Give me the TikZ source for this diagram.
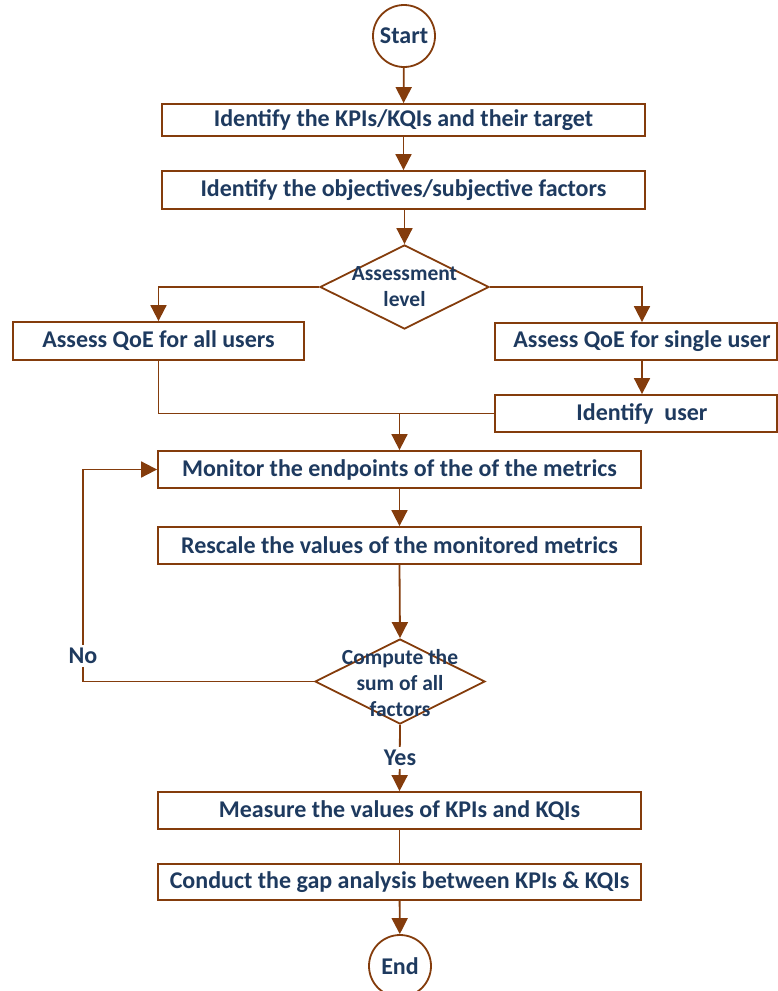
\documentclass[tikz,border=0pt]{standalone}
\usepackage{fontspec}
\setmainfont{Carlito}
\usetikzlibrary{arrows.meta,shapes.geometric}
\definecolor{flowline}{HTML}{843C0C}
\definecolor{flowtext}{HTML}{1E3A5F}

\begin{document}
\begin{tikzpicture}[x=1pt,y=-1pt,
  line width=1.8pt,
  color=flowline,
  txt/.style={text=flowtext, font=\bfseries\fontsize{24}{28}\selectfont, align=center, inner sep=0pt},
  stepbox/.style={txt, draw=flowline, rectangle, fill=white, minimum width=483pt, minimum height=37pt},
  sidebox/.style={stepbox, minimum width=291pt},
  rightbox/.style={stepbox, minimum width=282pt},
  terminal/.style={txt, draw=flowline, circle, fill=white, minimum size=62pt},
  decision/.style={draw=flowline, diamond, fill=white, inner sep=0pt},
  dtext/.style={txt, font=\bfseries\fontsize{21.5}{26}\selectfont},
  tag/.style={txt, fill=white, inner sep=3pt},
  flow/.style={-{Triangle[length=16pt,width=16pt]}}
]
\useasboundingbox (0,0) rectangle (778,991);

% terminals and process steps
\node[terminal] (start) at (404,36) {Start};
\node[stepbox, minimum height=32pt] (b1) at (403.5,120) {Identify the KPIs/KQIs and their target};
\node[stepbox, minimum height=38pt] (b2) at (403.5,190) {Identify the objectives/subjective factors};

% first decision
\node[decision, minimum width=169pt, minimum height=84pt] (d1) at (404.5,287) {};
\node[dtext] (d1t) at (d1) {Assessment\\level};

\node[sidebox, minimum height=38pt] (b3) at (158.5,341) {Assess QoE for all users};
\node[rightbox] (b4) at (636,341.5) {\hspace*{12pt}Assess QoE for single user};
\node[rightbox] (b5) at (636,413.5) {\hspace*{12pt}Identify\ \ user};

\node[stepbox] (b6) at (399.5,469.5) {Monitor the endpoints of the of the metrics};
\node[stepbox] (b7) at (399.5,545.5) {Rescale the values of the monitored metrics};

% second decision
\node[decision, minimum width=170pt, minimum height=85pt] (d2) at (400,681.5) {};

\node[stepbox] (b8) at (399.5,810.5) {Measure the values of KPIs and KQIs};
\node[stepbox, minimum height=36pt] (b9) at (399.5,882) {Conduct the gap analysis between KPIs \& KQIs};
\node[terminal] (end) at (400,966) {End};

% connectors
\draw[flow] (start) -- (b1);
\draw[flow] (b1) -- (b2);
\draw[flow] (b2.south -| d1.north) -- (d1.north);
\draw[flow] (d1.west) -| (b3.north);
\draw[flow] (d1.east) -| ([xshift=6pt]b4.north);
\draw[flow] ([xshift=6pt]b4.south) -- ([xshift=6pt]b5.north);
\draw (b3.south) |- (b5.west);
\coordinate (merge) at (b6.north |- b5.west);
\draw[flow] (merge) -- (b6.north);
\draw[flow] (b6) -- (b7);
\draw[flow] (b7.south) -- (d2.north);
\coordinate (loop) at (83,681.5);
\draw[flow] (d2.west) -- (loop) |- (b6.west);
\draw[flow] (d2.south) -- (b8.north);
\draw (b8) -- (b9);
\draw[flow] (b9) -- (end);

% decision texts and branch tags on top of the lines
\node[dtext] (d2t) at (400,683) {Compute the\\sum of all\\factors};
\node[tag] (no) at (83,656) {No};
\node[tag] (yes) at (400,758) {Yes};
\end{tikzpicture}
\end{document}
